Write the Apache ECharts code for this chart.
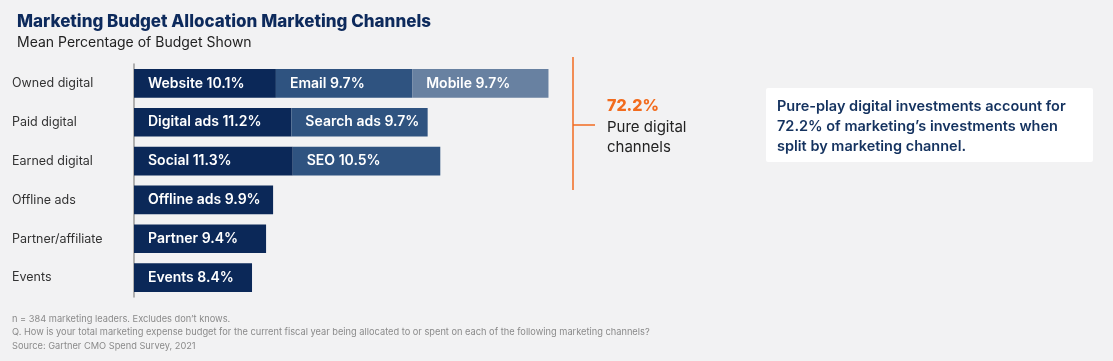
<!DOCTYPE html>
<html>
<head>
<meta charset="utf-8">
<script src="https://cdn.jsdelivr.net/npm/echarts@6/dist/echarts.min.js"></script>
<style>
html,body{margin:0;padding:0;background:#f2f2f3;}
#chart{width:1113px;height:361px;}
</style>
</head>
<body>
<div id="chart"></div>
<script>
const categories = ['Owned digital', 'Paid digital', 'Earned digital', 'Offline ads', 'Partner/affiliate', 'Events'];
const firstNames = ['Website', 'Digital ads', 'Social', 'Offline ads', 'Partner', 'Events'];
const firstValues = [10.1, 11.2, 11.3, 9.9, 9.4, 8.4];
const secondNames = ['Email', 'Search ads', 'SEO', '', '', ''];
const secondValues = [9.7, 9.7, 10.5, null, null, null];
const thirdNames = ['Mobile', '', '', '', '', ''];
const thirdValues = [9.7, null, null, null, null, null];
const pureDigitalTotal = '72.2%';

const FONT = 'Inter, "Noto Sans", sans-serif';
const chart = echarts.init(document.getElementById('chart'));

function mkSeries(names, values, color) {
  return {
    type: 'bar',
    stack: 'total',
    barCategoryGap: '26%',
    itemStyle: { color: color },
    label: {
      show: true,
      position: 'insideLeft',
      distance: 14,
      color: '#ffffff',
      fontFamily: FONT,
      fontSize: 14,
      fontWeight: 600,
      formatter: p => names[p.dataIndex] + ' ' + values[p.dataIndex] + '%'
    },
    data: values.map(v => v === null ? '-' : v)
  };
}

chart.setOption({
  backgroundColor: '#f2f2f3',
  animation: false,
  title: [
    { text: 'Marketing Budget Allocation Marketing Channels', left: 12, top: 8,
      textStyle: { fontFamily: FONT, fontSize: 17, fontWeight: 800, color: '#0d2a5c' } },
    { text: 'Mean Percentage of Budget Shown', left: 12, top: 31,
      textStyle: { fontFamily: FONT, fontSize: 14, fontWeight: 400, color: '#222222' } }
  ],
  grid: { left: 134, top: 64, width: 562, height: 233 },
  xAxis: { type: 'value', min: 0, max: 40, show: false },
  yAxis: {
    type: 'category', inverse: true, data: categories,
    axisLine: { show: true, lineStyle: { color: '#9a9a9a', width: 1.5 } },
    axisTick: { show: false },
    axisLabel: { align: 'left', margin: 122, color: '#333333', fontFamily: FONT, fontSize: 12.5 }
  },
  series: [
    mkSeries(firstNames, firstValues, '#0b2858'),
    mkSeries(secondNames, secondValues, '#2f5380'),
    mkSeries(thirdNames, thirdValues, '#6881a1')
  ],
  graphic: [
    { type: 'line', shape: { x1: 573, y1: 57, x2: 573, y2: 190 }, style: { stroke: '#f26b21', lineWidth: 1.5 } },
    { type: 'line', shape: { x1: 573, y1: 125, x2: 595, y2: 125 }, style: { stroke: '#f26b21', lineWidth: 1.5 } },
    { type: 'text', left: 607, top: 98, style: { text: pureDigitalTotal, fill: '#f26b1d', font: '800 16px ' + FONT } },
    { type: 'text', left: 607, top: 117, style: { text: 'Pure digital\nchannels', fill: '#222222', font: '400 15px ' + FONT, lineHeight: 20 } },
    { type: 'rect', shape: { x: 766, y: 88, width: 327, height: 74, r: 2 }, style: { fill: '#ffffff' } },
    { type: 'text', left: 777, top: 97, style: { text: 'Pure-play digital investments account for\n72.2% of marketing\u2019s investments when\nsplit by marketing channel.', fill: '#14325f', font: '600 14.5px ' + FONT, lineHeight: 20 } },
    { type: 'text', left: 12, top: 312, style: { text: 'n = 384 marketing leaders. Excludes don\u2019t knows.\nQ. How is your total marketing expense budget for the current fiscal year being allocated to or spent on each of the following marketing channels?\nSource: Gartner CMO Spend Survey, 2021', fill: '#8a8a8a', font: '400 9.25px ' + FONT, lineHeight: 13.5 } }
  ]
});
</script>
</body>
</html>
